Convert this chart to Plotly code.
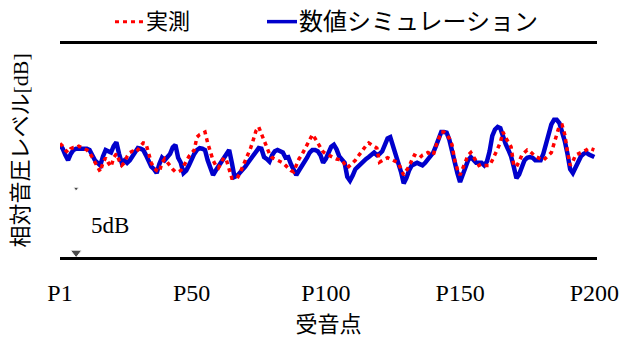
import plotly.graph_objects as go

# Receiver points P1..P200
points = list(range(1, 201))
tick_points = [1, 50, 100, 150, 200]
tick_labels = ["P1", "P50", "P100", "P150", "P200"]

# Relative sound pressure level [dB], numerical simulation
simulated = [
    0.4, 0.1, -0.4, -0.8, -0.3, 0.0, 0.1, 0.1, 0.1, 0.1,
    0.1, 0.0, -0.4, -0.8, -1.0, -1.2, -0.5, 0.0, -0.1, -0.2,
    0.3, 0.6, -0.3, -1.0, -0.8, -1.0, -0.8, -0.5, -0.2, 0.15,
    0.1, 0.0, -0.4, -0.9, -1.3, -1.5, -1.8, -1.1, -0.6, -0.8,
    -0.6, -0.3, 0.2, 0.4, -0.6, -1.0, -1.8, -1.6, -1.2, -0.7,
    -0.3, 0.0, 0.15, 0.1, 0.0, -0.8, -1.4, -1.95, -1.6, -1.3,
    -0.9, -0.55, -0.3, 0.0, -1.0, -2.1, -2.0, -1.8, -1.55, -1.3,
    -1.0, -0.7, -0.3, 0.0, 0.15, 0.1, -0.55, -0.7, -0.9, -0.4,
    -0.1, 0.0, -0.1, -0.2, -0.6, -0.55, -1.1, -1.6, -1.95, -1.6,
    -1.3, -1.0, -0.6, -0.2, 0.0, 0.0, -0.1, -0.4, -1.0, -0.7,
    -0.3, 0.25, 0.4, 0.05, -0.5, -0.8, -1.0, -2.1, -2.4, -2.0,
    -1.5, -1.3, -1.1, -0.8, -0.7, -0.55, -0.4, -0.2, -0.4, -0.3,
    -0.1, 0.5, 0.9, 1.0, 0.3, -0.2, -0.8, -1.7, -2.6, -2.2,
    -1.6, -1.2, -1.1, -1.0, -1.1, -1.2, -1.0, -0.7, -0.5, -0.2,
    0.3, 0.8, 1.4, 1.4, 1.35, 0.8, -0.1, -1.1, -1.8, -2.5,
    -1.9, -1.2, -0.8, -0.55, -0.8, -1.0, -1.0, -1.0, -1.2, -0.9,
    -0.1, 1.1, 1.6, 1.8, 1.7, 1.0, 0.45, 0.0, -0.5, -1.3,
    -2.2, -1.9, -1.3, -0.8, -0.6, -0.55, -0.6, -0.8, -0.8, -0.8,
    -0.3, 0.4, 1.3, 2.0, 2.35, 2.35, 2.1, 1.5, 0.7, -0.3,
    -1.5, -1.8, -1.3, -0.8, -0.5, -0.3, -0.2, -0.35, -0.45, -0.55,
]

# Relative sound pressure level [dB], measurement
measured = [
    0.5, 0.3, 0.0, -0.2, 0.1, 0.2, 0.2, 0.3, 0.2, 0.1,
    0.0, -0.2, -0.6, -1.0, -1.4, -1.7, -1.0, -0.6, -1.0, -1.3,
    -0.6, -0.3, -0.8, -1.2, -1.0, -0.5, -0.2, -0.1, -0.2, 0.0,
    0.3, 0.55, 0.5, -0.3, -1.0, -1.4, -1.6, -1.7, -1.0, -0.7,
    -1.0, -1.3, -1.5, -1.7, -1.7, -1.6, -1.3, -0.9, -0.5, -0.2,
    0.0, 1.0, 1.2, 1.3, 1.4, 0.55, -0.2, -0.8, -1.2, -1.4,
    -1.0, -0.6, -0.8, -1.5, -2.2, -2.2, -2.2, -1.8, -1.3, -0.95,
    -0.4, 0.15, 0.8, 1.5, 1.8, 1.3, 0.8, 0.25, -0.3, -0.6,
    -0.7, -0.8, -0.9, -1.0, -1.2, -1.4, -1.6, -1.7, -1.2, -0.7,
    -0.4, 0.0, 0.4, 0.9, 1.2, 0.9, 0.55, 0.2, -0.15, -0.3,
    -0.4, -0.55, -0.6, -0.7, -0.75, -0.8, -1.1, -1.4, -1.2, -1.0,
    -0.8, -0.5, -0.2, 0.1, 0.35, 0.55, 0.4, 0.25, 0.15, -0.95,
    -0.8, -0.7, -0.6, -0.7, -0.8, -0.9, -1.0, -1.5, -1.95, -1.6,
    -1.3, -0.8, -0.4, -0.5, -0.6, -0.4, -0.3, -0.2, -0.3, -0.4,
    0.3, 0.9, 1.4, 1.4, 1.2, 0.9, 0.4, -0.8, -1.5, -1.95,
    -1.4, -0.8, -0.4, -0.2, -0.5, -0.9, -1.2, -1.1, -1.2, -1.2,
    -1.2, -0.8, -0.4, 0.1, 0.6, 1.4, 0.95, 0.6, 0.25, -1.2,
    -1.3, -0.9, -0.4, -0.2, 0.0, -0.1, -0.3, -0.5, -0.6, -0.7,
    -0.8, -0.6, -0.4, -0.2, 0.5, 1.2, 1.9, 1.95, 1.2, -0.15,
    -1.2, -0.9, -0.4, -0.3, -0.2, -0.15, 0.0, 0.15, 0.1, 0.0,
]

assert len(simulated) == len(points) == len(measured)

# 5 dB scale bar (position on the receiver axis and its two ends in dB)
scale_point = 7
scale_db = [-8.0, -3.0]
scale_label = "5dB"

SERIF = "Liberation Serif, Noto Sans CJK JP, serif"
BLUE = "#0000CC"
RED = "#FF0000"

fig = go.Figure()

fig.add_trace(go.Scatter(
    x=points, y=simulated, mode="lines", name="数値シミュレーション",
    line=dict(color=BLUE, width=4.5), showlegend=False,
))
fig.add_trace(go.Scatter(
    x=points, y=measured, mode="lines", name="実測",
    line=dict(color=RED, width=3.5, dash="4px,4px"), showlegend=False,
))

# scale bar end markers
fig.add_trace(go.Scatter(
    x=[scale_point, scale_point], y=scale_db, mode="markers",
    marker=dict(symbol=["triangle-down", "triangle-down"], size=[10, 5], color="black"),
    showlegend=False, hoverinfo="skip",
))

fig.add_annotation(
    x=scale_point + 12.5, y=(scale_db[0] + scale_db[1]) / 2 - 0.4,
    text=scale_label, showarrow=False, xanchor="center", yanchor="middle",
    font=dict(family=SERIF, size=23, color="black"),
)

# legend drawn as line samples with labels above the plot
legend_y = 1.105
fig.add_shape(type="line", xref="paper", yref="paper",
              x0=(115 - 60) / 537, x1=(143 - 60) / 537, y0=legend_y, y1=legend_y,
              line=dict(color=RED, width=3, dash="4px,4px"))
fig.add_annotation(xref="paper", yref="paper", x=(144 - 60) / 537, y=legend_y,
                   text="実測", showarrow=False, xanchor="left", yanchor="middle",
                   font=dict(family=SERIF, size=22, color="black"))
fig.add_shape(type="line", xref="paper", yref="paper",
              x0=(267 - 60) / 537, x1=(297 - 60) / 537, y0=legend_y, y1=legend_y,
              line=dict(color=BLUE, width=3.5))
fig.add_annotation(xref="paper", yref="paper", x=(297 - 60) / 537, y=legend_y,
                   text="数値シミュレーション", showarrow=False, xanchor="left", yanchor="middle",
                   font=dict(family=SERIF, size=24, color="black"))

# vertical axis title
fig.add_annotation(xref="paper", yref="paper", x=-40 / 537, y=0.5,
                   text="相対音圧レベル[dB]", showarrow=False, textangle=-90,
                   xanchor="center", yanchor="middle",
                   font=dict(family=SERIF, size=22, color="black"))

fig.update_layout(
    width=621, height=338,
    margin=dict(l=60, r=24, t=44, b=81, autoexpand=False),
    paper_bgcolor="white", plot_bgcolor="white",
    font=dict(family=SERIF, size=22, color="black"),
    xaxis=dict(
        range=[1, 201], tickvals=tick_points, ticktext=tick_labels,
        showgrid=False, zeroline=False, showline=True, mirror=True,
        linecolor="black", linewidth=3, ticks="", ticklabelstandoff=12,
        automargin=False,
        tickfont=dict(family=SERIF, size=24, color="black"),
        title=dict(text="受音点", standoff=12, font=dict(family=SERIF, size=22, color="black")),
    ),
    yaxis=dict(
        range=[-8.34, 8.26], showgrid=False, zeroline=False, showline=False,
        showticklabels=False, ticks="", automargin=False,
    ),
)

fig.write_html("out.html")
